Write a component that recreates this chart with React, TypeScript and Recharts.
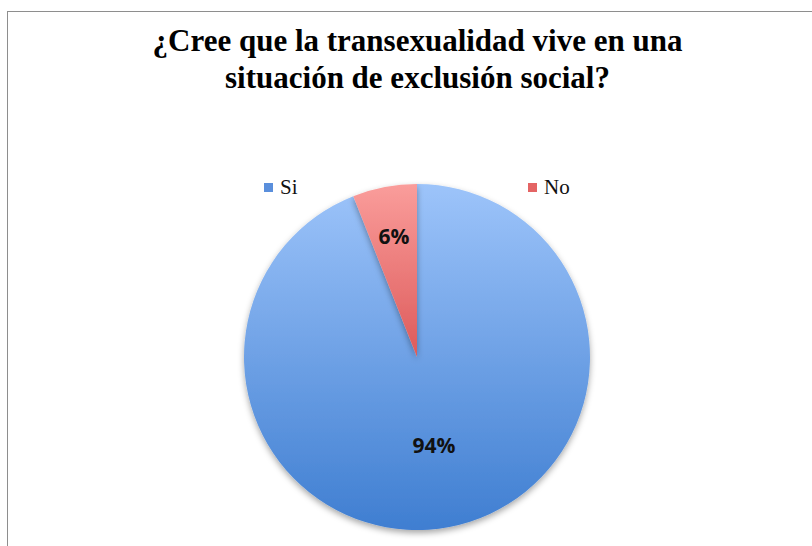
import { PieChart, Pie, Cell } from "recharts";

// Answers to the survey question and their share of responses
const answers = ["Si", "No"];
const shares = [94, 6];

const fills = ["url(#gradSi)", "url(#gradNo)"];
const swatches = ["#5a8fdc", "#e46464"];
// how far out (fraction of radius) each percentage label sits
const labelRadius = [0.52, 0.71];
// legend item x positions
const legendLeft = [264, 528];

const data = answers.map((name, i) => ({ name, value: shares[i] }));

const RADIAN = Math.PI / 180;

function renderLabel(props: any) {
  const { cx, cy, midAngle, outerRadius, percent, index } = props;
  const r = outerRadius * labelRadius[index];
  const x = cx + r * Math.cos(-midAngle * RADIAN);
  const y = cy + r * Math.sin(-midAngle * RADIAN);
  return (
    <text
      x={x}
      y={y}
      textAnchor="middle"
      dominantBaseline="central"
      fill="#111"
      style={{ fontFamily: "'Open Sans', sans-serif", fontWeight: 700, fontSize: 21 }}
    >
      {`${Math.round(percent * 100)}%`}
    </text>
  );
}

export default function App() {
  return (
    <div style={{ position: "absolute", left: 0, top: 0, width: 812, height: 546, overflow: "hidden", background: "#fff" }}>
      {/* chart frame, runs off the right and bottom edge */}
      <div
        style={{
          position: "absolute",
          left: 7,
          top: 11,
          width: 830,
          height: 560,
          border: "1px solid #8e8e8e",
        }}
      />

      <div
        style={{
          position: "absolute",
          top: 22,
          left: 0,
          width: 835,
          textAlign: "center",
          fontFamily: "'Liberation Serif', serif",
          fontWeight: 700,
          fontSize: 31,
          lineHeight: "37px",
          color: "#000",
        }}
      >
        ¿Cree que la transexualidad vive en una
        <br />
        situación de exclusión social?
      </div>

      {/* legend: items sit far apart, like the original spreadsheet chart */}
      {answers.map((name, i) => (
        <div
          key={name}
          style={{
            position: "absolute",
            left: legendLeft[i],
            top: 175,
            display: "flex",
            alignItems: "center",
            fontFamily: "'Liberation Serif', serif",
            fontSize: 21,
            lineHeight: "24px",
            color: "#111",
          }}
        >
          <span style={{ width: 9, height: 9, background: swatches[i], marginRight: 7 }} />
          {name}
        </div>
      ))}

      <div style={{ position: "absolute", left: 0, top: 0 }}>
        <PieChart width={812} height={546} margin={{ top: 0, right: 0, bottom: 0, left: 0 }}>
          <defs>
            <linearGradient id="gradSi" x1="0" y1="184" x2="0" y2="530" gradientUnits="userSpaceOnUse">
              <stop offset="0%" stopColor="#9dc4fa" />
              <stop offset="100%" stopColor="#3f7ed1" />
            </linearGradient>
            <linearGradient id="gradNo" x1="0" y1="0" x2="0" y2="1">
              <stop offset="0%" stopColor="#fa9d9b" />
              <stop offset="100%" stopColor="#dd5a5a" />
            </linearGradient>
            <filter id="pieShadow" x="-10%" y="-10%" width="120%" height="125%">
              <feDropShadow dx="0" dy="3" stdDeviation="3" floodColor="#000" floodOpacity="0.35" />
            </filter>
          </defs>
          <Pie
            data={data}
            dataKey="value"
            nameKey="name"
            cx={417}
            cy={357}
            outerRadius={173}
            startAngle={90}
            endAngle={-270}
            stroke="none"
            label={renderLabel}
            labelLine={false}
            isAnimationActive={false}
          >
            {data.map((d, i) => (
              <Cell key={d.name} fill={fills[i]} filter="url(#pieShadow)" />
            ))}
          </Pie>
        </PieChart>
      </div>
    </div>
  );
}
